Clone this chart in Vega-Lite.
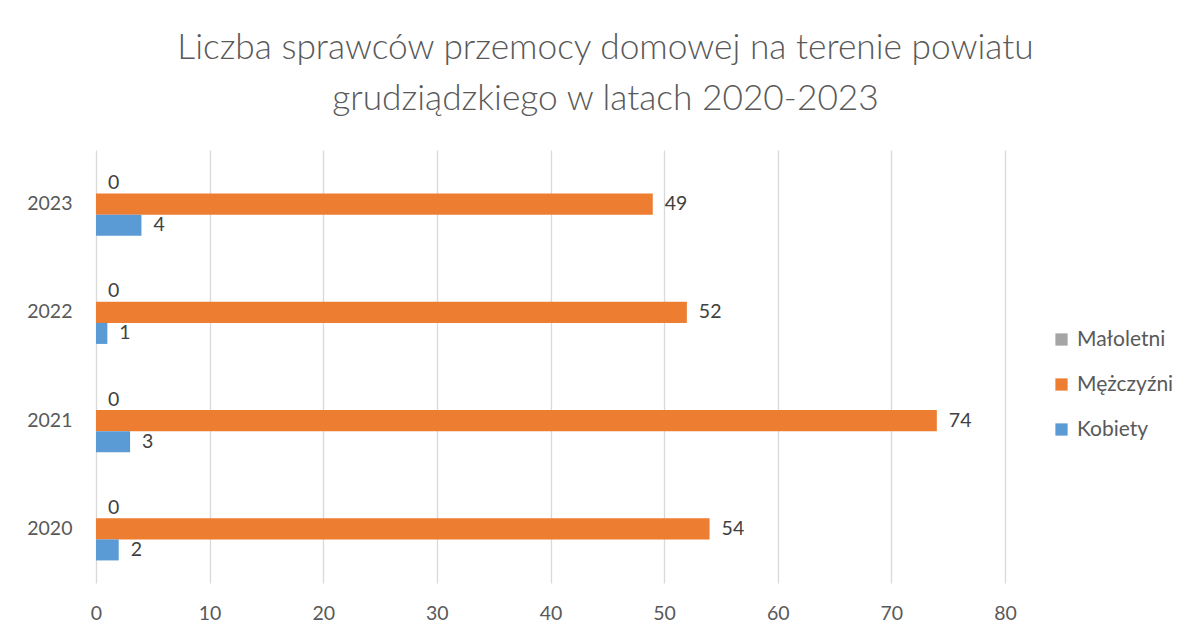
{
  "$schema": "https://vega.github.io/schema/vega-lite/v6.json",
  "width": 909,
  "height": 433,
  "autosize": "none",
  "padding": {"left": 96, "top": 150, "right": 185, "bottom": 56},
  "background": "white",
  "title": {
    "text": ["Liczba sprawców przemocy domowej na terenie powiatu", "grudziądzkiego w latach 2020-2023"],
    "font": "Lato",
    "fontSize": 35.3,
    "fontWeight": 300,
    "color": "#595959",
    "anchor": "middle",
    "dx": 55,
    "offset": 33,
    "lineHeight": 51
  },
  "data": {
    "values": [
      {"rok": "2023", "grupa": "Małoletni", "liczba": 0},
      {"rok": "2023", "grupa": "Mężczyźni", "liczba": 49},
      {"rok": "2023", "grupa": "Kobiety", "liczba": 4},
      {"rok": "2022", "grupa": "Małoletni", "liczba": 0},
      {"rok": "2022", "grupa": "Mężczyźni", "liczba": 52},
      {"rok": "2022", "grupa": "Kobiety", "liczba": 1},
      {"rok": "2021", "grupa": "Małoletni", "liczba": 0},
      {"rok": "2021", "grupa": "Mężczyźni", "liczba": 74},
      {"rok": "2021", "grupa": "Kobiety", "liczba": 3},
      {"rok": "2020", "grupa": "Małoletni", "liczba": 0},
      {"rok": "2020", "grupa": "Mężczyźni", "liczba": 54},
      {"rok": "2020", "grupa": "Kobiety", "liczba": 2}
    ]
  },
  "encoding": {
    "y": {
      "field": "rok",
      "type": "nominal",
      "sort": ["2023", "2022", "2021", "2020"],
      "scale": {"paddingInner": 0.417, "paddingOuter": 0.2085},
      "axis": {
        "title": null,
        "domain": false,
        "ticks": false,
        "grid": false,
        "labelFont": "Lato",
        "labelFontSize": 19.5,
        "labelColor": "#595959",
        "labelPadding": 24
      }
    },
    "yOffset": {
      "field": "grupa",
      "type": "nominal",
      "sort": ["Małoletni", "Mężczyźni", "Kobiety"]
    },
    "x": {
      "field": "liczba",
      "type": "quantitative",
      "scale": {"domain": [0, 80]},
      "axis": {
        "title": null,
        "domain": false,
        "ticks": false,
        "grid": true,
        "gridColor": "#D9D9D9",
        "gridWidth": 1.3,
        "values": [0, 10, 20, 30, 40, 50, 60, 70, 80],
        "labelOverlap": false,
        "labelFlush": false,
        "labelFont": "Lato",
        "labelFontSize": 19.5,
        "labelColor": "#595959",
        "labelPadding": 21
      }
    }
  },
  "layer": [
    {
      "mark": {"type": "bar"},
      "encoding": {
        "color": {
          "field": "grupa",
          "type": "nominal",
          "scale": {
            "domain": ["Małoletni", "Mężczyźni", "Kobiety"],
            "range": ["#A5A5A5", "#ED7D31", "#5B9BD5"]
          },
          "legend": {
            "title": null,
            "orient": "none",
            "legendX": 955,
            "legendY": 179,
            "symbolType": "square",
            "symbolSize": 150,
            "symbolStrokeWidth": 0,
            "labelFont": "Lato",
            "labelFontSize": 21,
            "labelColor": "#595959",
            "labelOffset": 5,
            "rowPadding": 23
          }
        }
      }
    },
    {
      "mark": {
        "type": "text",
        "align": "left",
        "baseline": "middle",
        "dx": 12,
        "font": "Lato",
        "fontSize": 19.5,
        "color": "#404040"
      },
      "encoding": {
        "text": {"field": "liczba", "type": "quantitative"}
      }
    }
  ],
  "config": {"view": {"stroke": null}}
}
